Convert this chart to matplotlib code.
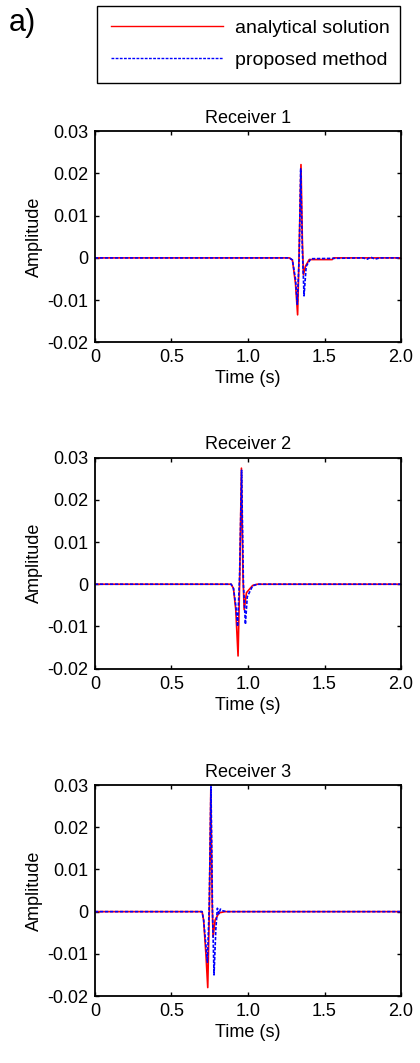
import matplotlib.pyplot as plt
from matplotlib.lines import Line2D

plt.rcParams['font.family'] = ['Liberation Sans', 'DejaVu Sans']

# traces (time in s, amplitude)
t1_red = [0, 1.27, 1.29, 1.31, 1.324, 1.333, 1.346, 1.355, 1.362, 1.375, 1.40, 1.55, 1.56, 2.0]
a1_red = [0, 0, -0.0005, -0.006, -0.0135, 0.0, 0.0221, 0.004, -0.004, -0.002, -0.0004, -0.0004, 0, 0]
t1_blue = [0, 1.27, 1.29, 1.31, 1.322, 1.334, 1.344, 1.355, 1.366, 1.38, 1.41, 1.75, 1.78, 1.80, 1.83, 1.86, 2.0]
a1_blue = [0, 0, -0.0005, -0.005, -0.011, 0.0, 0.0211, 0.002, -0.009, -0.002, -0.0002, 0, -0.0003, 0.0002, -0.0003, 0, 0]

t2_red = [0, 0.89, 0.905, 0.92, 0.935, 0.945, 0.957, 0.967, 0.975, 0.99, 1.03, 1.06, 2.0]
a2_red = [0, 0, -0.001, -0.006, -0.017, 0.0, 0.0275, 0.002, -0.006, -0.002, -0.0003, 0, 0]
t2_blue = [0, 0.89, 0.905, 0.92, 0.932, 0.945, 0.958, 0.97, 0.983, 0.995, 1.03, 1.06, 2.0]
a2_blue = [0, 0, -0.001, -0.005, -0.010, 0.002, 0.027, 0.0, -0.0095, -0.003, -0.0004, 0, 0]

t3_red = [0, 0.70, 0.71, 0.725, 0.737, 0.747, 0.757, 0.766, 0.772, 0.785, 0.81, 0.85, 2.0]
a3_red = [0, 0, -0.002, -0.010, -0.018, 0.0, 0.029, 0.002, -0.006, -0.002, -0.0003, 0, 0]
t3_blue = [0, 0.70, 0.71, 0.725, 0.735, 0.747, 0.758, 0.768, 0.778, 0.79, 0.80, 0.81, 0.82, 0.835, 0.86, 2.0]
a3_blue = [0, 0, -0.002, -0.008, -0.012, 0.002, 0.030, 0.0, -0.015, -0.004, 0.0008, -0.0005, 0.0006, 0.0002, 0, 0]

titles = ['Receiver 1', 'Receiver 2', 'Receiver 3']
xticks = [0, 0.5, 1.0, 1.5, 2.0]
xticklabels = ['0', '0.5', '1.0', '1.5', '2.0']
yticks = [-0.02, -0.01, 0, 0.01, 0.02, 0.03]
yticklabels = ['-0.02', '-0.01', '0', '0.01', '0.02', '0.03']

traces = [(t1_red, a1_red, t1_blue, a1_blue),
          (t2_red, a2_red, t2_blue, a2_blue),
          (t3_red, a3_red, t3_blue, a3_blue)]

fig = plt.figure(figsize=(4.2, 10.63), dpi=100)
bottoms = [0.678, 0.371, 0.063]
blue_style = (0, (2, 1))

for i, (tr, ar, tb, ab) in enumerate(traces):
    ax = fig.add_axes([0.226, bottoms[i], 0.729, 0.1985])
    ax.plot(tr, ar, color='red', lw=1.2)
    ax.plot(tb, ab, color='blue', lw=1.2, linestyle=blue_style)
    ax.set_xlim(0, 2)
    ax.set_ylim(-0.02, 0.03)
    ax.set_xticks(xticks)
    ax.set_xticklabels(xticklabels)
    ax.set_yticks(yticks)
    ax.set_yticklabels(yticklabels)
    ax.tick_params(direction='in', length=3, width=1, top=True, right=True,
                   labelsize=13, pad=5)
    for s in ax.spines.values():
        s.set_linewidth(1.3)
    ax.set_title(titles[i], fontsize=13, pad=6)
    ax.set_xlabel('Time (s)', fontsize=13, labelpad=3)
    ax.set_ylabel('Amplitude', fontsize=13, labelpad=3)

handles = [Line2D([], [], color='red', lw=1.0),
           Line2D([], [], color='blue', lw=1.0, linestyle=blue_style)]
fig.legend(handles, ['analytical solution', 'proposed method'],
           loc='lower left', bbox_to_anchor=(0.231, 0.922, 0.721, 0.0714),
           mode='expand', fontsize=14, handlelength=5.8, handletextpad=0.6,
           fancybox=False, edgecolor='black', framealpha=1, borderpad=0.7,
           labelspacing=0.75, borderaxespad=0)
fig.text(0.02, 0.978, 'a)', fontsize=22, va='center', ha='left')

fig.savefig('out.png', dpi=100)
